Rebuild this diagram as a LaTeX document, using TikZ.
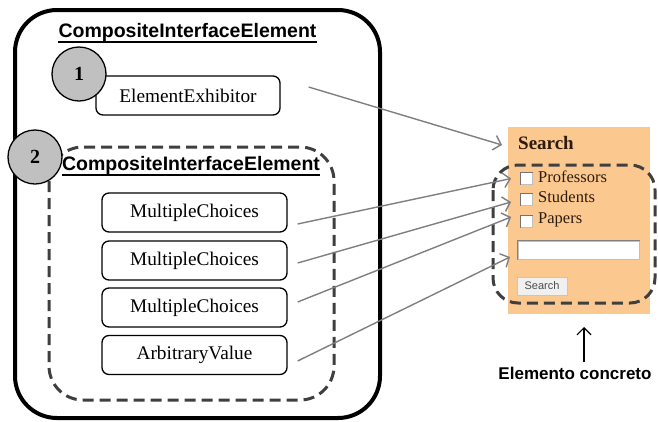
\documentclass[tikz,border=0pt]{standalone}
\usepackage{fontspec}
\setmainfont{Liberation Serif}
\newfontfamily\arialf{Liberation Sans}
\usetikzlibrary{arrows.meta}
\definecolor{peach}{HTML}{FBC98F}
\definecolor{dashgray}{HTML}{3F3F3F}
\definecolor{conngray}{HTML}{7F7F7F}
\definecolor{circgray}{HTML}{C0C0C0}
\definecolor{brownish}{HTML}{2E1A0E}
\begin{document}
\begin{tikzpicture}[x=1pt,y=-1pt,
  outerbox/.style={draw=black,line width=4pt,rounded corners=42pt},
  dashbox/.style={draw=dashgray,line width=3pt,dash pattern=on 11pt off 6pt},
  elem/.style={draw=black,line width=1.3pt,rounded corners=7pt,minimum width=185pt,minimum height=39pt,inner sep=0pt,font=\fontsize{19.3}{22}\selectfont},
  ctitle/.style={font=\arialf\bfseries\fontsize{19.5}{22}\selectfont,inner sep=0pt,anchor=base},
  badge/.style={circle,draw=black,line width=1.3pt,fill=circgray,minimum size=54pt,inner sep=0pt,font=\bfseries\fontsize{20}{22}\selectfont},
  conn/.style={draw=conngray,line width=1.4pt,-{Straight Barb[length=7pt,width=15pt]}},
  cbox/.style={draw=gray!50,fill=white,line width=0.8pt,minimum size=12pt,inner sep=0pt},
  cblabel/.style={font=\fontsize{16.5}{18}\selectfont,text=brownish,anchor=base west,inner sep=0pt},
  lbl/.style={font=\arialf\bfseries\fontsize{17}{20}\selectfont,inner sep=0pt,anchor=base}]
\useasboundingbox (0,0) rectangle (658,421);

% outer composite element
\draw[outerbox] (15,10) rectangle (380,418);
\node[ctitle] (t1) at (187.5,37) {CompositeInterfaceElement};
\draw[line width=2pt] ([yshift=-5pt]t1.base west) -- ([yshift=-5pt]t1.base east);

% element exhibitor
\node[elem,minimum width=184pt] (ee) at (188,95.5) {ElementExhibitor};

% inner composite element
\draw[dashbox,rounded corners=34pt] (49,147) rectangle (334,400);
\node[ctitle] (t2) at (191,170) {CompositeInterfaceElement};
\draw[line width=2pt] ([yshift=-5pt]t2.base west) -- ([yshift=-5pt]t2.base east);

\node[elem] (mc1) at (194.5,212.5) {MultipleChoices};
\node[elem] (mc2) at (194.5,260.5) {MultipleChoices};
\node[elem] (mc3) at (194.5,307.5) {MultipleChoices};
\node[elem] (av)  at (194.5,355) {ArbitraryValue};

% badges
\node[badge] (b1) at (79,74) {1};
\node[badge] (b2) at (35,157) {2};

% concrete search widget
\fill[peach] (508,127) rectangle (650,314);
\node[font=\bfseries\fontsize{19}{22}\selectfont,text=brownish,anchor=base west,inner sep=0pt] (srch) at (518,149) {Search};
\foreach \n/\y in {cb1/178.5,cb2/199.5,cb3/221.5}{
  \node[cbox] (\n) at (526.5,\y) {};
  \draw[gray!90!black,line width=1pt] (\n.south west) -- (\n.north west) -- (\n.north east);
}
\node[cblabel] (l1) at (538,182) {Professors};
\node[cblabel] (l2) at (538,202) {Students};
\node[cblabel] (l3) at (538,223) {Papers};
\node[draw=gray!50,fill=white,line width=1pt,minimum width=121pt,minimum height=18pt,inner sep=0pt] (inp) at (578.5,250) {};
\draw[gray,line width=1pt] (inp.south west) -- (inp.north west) -- (inp.north east);
\node[draw=gray!45,fill=gray!12,line width=0.8pt,minimum width=50pt,minimum height=18pt,inner sep=0pt,font=\arialf\fontsize{11}{12}\selectfont,text=black!70] (btn) at (542,286) {Search};
\draw[dashbox,rounded corners=25pt] (493,165) rectangle (655,303);

% label
\node[lbl] (ec) at (575,379) {Elemento concreto};
\coordinate (ectip) at (584,327);
\draw[line width=1.2pt,-{Straight Barb[length=7pt,width=14pt]}] ([xshift=9pt,yshift=4pt]ec.north) -- (ectip);

% connectors
\coordinate (tg0) at (502,145);
\coordinate (tg4) at (510,257);
\draw[conn] ([xshift=28pt,yshift=8.5pt]ee.east) -- (tg0);
\draw[conn] ([xshift=10pt,yshift=-11.5pt]mc1.east) -- ([xshift=-9pt]cb1.west);
\draw[conn] ([xshift=10pt,yshift=-2.5pt]mc2.east) -- ([xshift=-9pt,yshift=-2.5pt]cb2.west);
\draw[conn] ([xshift=10pt,yshift=5.5pt]mc3.east) -- ([xshift=-9pt,yshift=4.5pt]cb3.west);
\draw[conn] ([xshift=10pt,yshift=-6pt]av.east) -- (tg4);
\end{tikzpicture}
\end{document}
